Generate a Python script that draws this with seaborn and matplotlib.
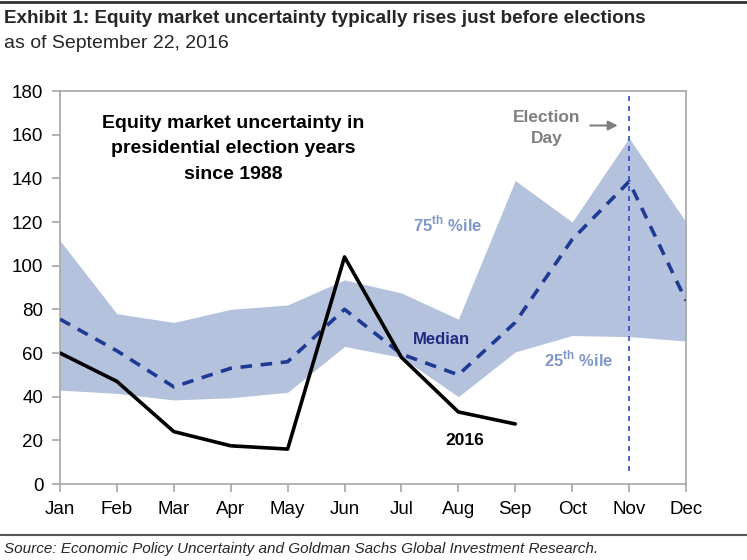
import numpy as np
import pandas as pd
import matplotlib
matplotlib.use("Agg")
import matplotlib.pyplot as plt
import seaborn as sns
from matplotlib.lines import Line2D

# values
months = ["Jan", "Feb", "Mar", "Apr", "May", "Jun",
          "Jul", "Aug", "Sep", "Oct", "Nov", "Dec"]
pct75 = [111.5, 78, 74, 80, 82, 93.5, 87.5, 75.5, 139, 120, 158.5, 120]
pct25 = [43, 41.5, 38.5, 39.5, 42, 63, 58, 40, 60.5, 68, 67.5, 65.5]
median = [75.5, 61, 44.5, 53, 56, 80, 59.5, 50, 74, 112, 138.5, 84]
y2016 = [60, 47, 24, 17.5, 16, 104, 58, 33, 27.5]

GRAY = "#a6a6a6"
BAND = "#b4c2de"
NAVY = "#1f3a93"

sns.set_theme(style="white")
plt.rcParams["font.family"] = ["Liberation Sans", "DejaVu Sans"]
plt.rcParams["mathtext.fontset"] = "custom"
plt.rcParams["mathtext.rm"] = "Liberation Sans"
plt.rcParams["mathtext.bf"] = "Liberation Sans:bold"

x = np.arange(len(months))
df_med = pd.DataFrame({"x": x, "v": median})
df_16 = pd.DataFrame({"x": x[:len(y2016)], "v": y2016})

fig = plt.figure(figsize=(7.47, 5.6), dpi=100)
ax = fig.add_axes([0.0803, 0.1357, 0.8380, 0.7018])

ax.fill_between(x, pct25, pct75, color=BAND, lw=0, zorder=1)
sns.lineplot(data=df_med, x="x", y="v", ax=ax, color=NAVY, lw=2.6,
             dashes=False, zorder=3)
ax.lines[-1].set_dashes((3.2, 2.4))
sns.lineplot(data=df_16, x="x", y="v", ax=ax, color="black", lw=2.6,
             zorder=4)

# election day marker
nov = months.index("Nov")
ax.vlines(nov, 6, 178, color="#2a4bc4", lw=1.2,
          linestyles=(0, (3, 3)), zorder=5)
ax.annotate("", xy=(nov - 0.15, 164.2), xytext=(nov - 0.73, 164.2),
            arrowprops=dict(arrowstyle="-|>", color="#7f7f7f", lw=1.5,
                            mutation_scale=14))
ax.text(nov - 1.45, 163, "Election\nDay", ha="center", va="center",
        color="#7f7f7f", fontsize=12.5, fontweight="bold", linespacing=1.45)

ax.text(3.05, 153.5, "Equity market uncertainty in\npresidential election years\nsince 1988",
        ha="center", va="center", fontsize=14, fontweight="bold",
        color="black", linespacing=1.65)
ax.text(6.2, 119, r"75$^{\mathbf{th}}$ %ile", ha="left", va="center",
        color="#7f96c8", fontsize=12, fontweight="bold")
ax.text(6.2, 66, "Median", ha="left", va="center", color="#1f2a80",
        fontsize=12, fontweight="bold")
ax.text(8.5, 57, r"25$^{\mathbf{th}}$ %ile", ha="left", va="center",
        color="#7f96c8", fontsize=12, fontweight="bold")
ax.text(7.12, 20, "2016", ha="center", va="center", color="black",
        fontsize=12.5, fontweight="bold")

ax.set_xlim(0, len(months) - 1)
ax.set_ylim(0, 180)
ax.set_yticks(range(0, 181, 20))
ax.set_xticks(x)
ax.set_xticklabels(months)
ax.set_xlabel("")
ax.set_ylabel("")
for s in ax.spines.values():
    s.set_color(GRAY)
    s.set_linewidth(1.2)
ax.tick_params(axis="both", direction="out", color=GRAY, width=1.2,
               length=6, labelsize=13.5, labelcolor="black", pad=6,
               bottom=True, left=True)

fig.add_artist(Line2D([0, 1], [0.9964, 0.9964], color="#333333", lw=2))
fig.add_artist(Line2D([0, 1], [0.0446, 0.0446], color="#555555", lw=1.5))
fig.text(0.006, 0.967, "Exhibit 1: Equity market uncertainty typically rises just before elections",
         ha="left", va="center", fontsize=13.6, fontweight="bold")
fig.text(0.006, 0.922, "as of September 22, 2016", ha="left", va="center",
         fontsize=14)
fig.text(0.006, 0.019, "Source: Economic Policy Uncertainty and Goldman Sachs Global Investment Research.",
         ha="left", va="center", fontsize=11, style="italic")

fig.savefig("out.png", dpi=100)
